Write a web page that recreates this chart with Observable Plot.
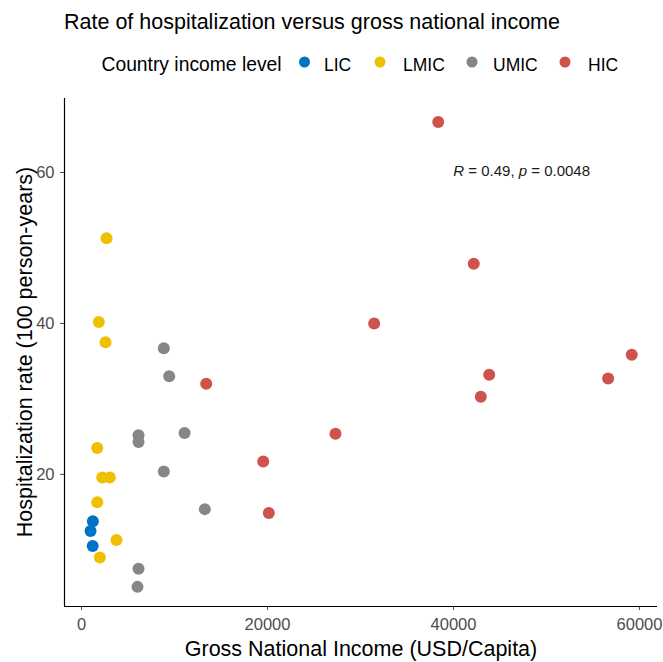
<!DOCTYPE html>
<html><head><meta charset="utf-8">
<script src="https://cdn.jsdelivr.net/npm/d3@7"></script>
<script src="https://cdn.jsdelivr.net/npm/@observablehq/plot@0.6"></script>
<style>
html,body{margin:0;padding:0;background:#fff;}
#chart{position:relative;width:663px;height:662px;}
svg{font-family:"Liberation Sans",Arial,sans-serif;}
</style></head><body><div id="chart"></div>
<script>
const groups = ["LIC","LMIC","UMIC","HIC"];
const groupColors = ["#0073C2","#EFC000","#868686","#CD534C"];
const licGNI = [1220, 970, 1200];
const licRate = [13.8, 12.5, 10.5];
const lmicGNI = [2690, 1860, 2580, 1690, 2230, 3040, 1690, 3760, 1970];
const lmicRate = [51.3, 40.2, 37.5, 23.5, 19.6, 19.6, 16.3, 11.3, 9.0];
const umicGNI = [8850, 9430, 6130, 6130, 11080, 8850, 13260, 6130, 6020];
const umicRate = [36.7, 33.0, 25.2, 24.3, 25.5, 20.4, 15.4, 7.5, 5.1];
const hicGNI = [38360, 42180, 31470, 59170, 43840, 56630, 42940, 27310, 13410, 19540, 20140];
const hicRate = [66.7, 47.9, 40.0, 35.85, 33.2, 32.7, 30.3, 25.4, 32.0, 21.7, 14.9];
const xTicks = [0, 20000, 40000, 60000];
const yTicks = [20, 40, 60];
const xDomain = [-1830, 61940];
const yDomain = [2.5, 69.8];
const titleText = "Rate of hospitalization versus gross national income";
const legendTitle = "Country income level";
const xLabel = "Gross National Income (USD/Capita)";
const yLabel = "Hospitalization rate (100 person-years)";
const statR = "0.49";
const statP = "0.0048";
const statPos = [40030, 60.2];

const seriesX = [licGNI, lmicGNI, umicGNI, hicGNI];
const seriesY = [licRate, lmicRate, umicRate, hicRate];
const data = [];
groups.forEach((g, i) => seriesX[i].forEach((v, j) => data.push({group: g, gni: v, rate: seriesY[i][j]})));

const chart = Plot.plot({
  width: 663, height: 662,
  marginLeft: 64, marginRight: 6, marginTop: 98, marginBottom: 56,
  style: {fontFamily: "Liberation Sans, Arial, sans-serif", background: "#fff", overflow: "visible"},
  x: {domain: xDomain},
  y: {domain: yDomain},
  color: {domain: groups, range: groupColors},
  marks: [
    Plot.axisX({ticks: xTicks, tickFormat: d => String(d), tickSize: 4, tickPadding: 8, fontSize: 16.5, label: null, color: "#4d4d4d"}),
    Plot.axisY({ticks: yTicks, tickSize: 4, tickPadding: 6, fontSize: 16.5, label: null, color: "#4d4d4d"}),
    Plot.ruleX([xDomain[0]], {stroke: "#000", strokeWidth: 1.2}),
    Plot.ruleY([yDomain[0]], {stroke: "#000", strokeWidth: 1.2}),
    Plot.dot(data, {x: "gni", y: "rate", fill: "group", r: 6, stroke: null})
  ]
});

const svg = d3.select(chart);
const sx = chart.scale("x"), sy = chart.scale("y"), sc = chart.scale("color");

// stat annotation
const st = svg.append("text")
  .attr("x", sx.apply(statPos[0])).attr("y", sy.apply(statPos[1]))
  .attr("dy", "0.35em").attr("text-anchor", "start").attr("font-size", 15).attr("fill", "#1a1a1a");
st.append("tspan").attr("font-style", "italic").text("R");
st.append("tspan").text(" = " + statR + ", ");
st.append("tspan").attr("font-style", "italic").text("p");
st.append("tspan").text(" = " + statP);

// title
svg.append("text").attr("x", 64).attr("y", 29).attr("text-anchor", "start").attr("font-size", 21.5).attr("fill", "#000").text(titleText);

// legend
svg.append("text").attr("x", 101.5).attr("y", 71).attr("text-anchor", "start").attr("font-size", 19.3).attr("fill", "#000").text(legendTitle);
const dotX = [304.5, 380, 472, 565];
const labX = [324, 403, 493, 588];
groups.forEach((g, i) => {
  svg.append("circle").attr("cx", dotX[i]).attr("cy", 62).attr("r", 5.5).attr("fill", sc.apply(g));
  svg.append("text").attr("x", labX[i]).attr("y", 71).attr("text-anchor", "start").attr("font-size", 17.5).attr("fill", "#000").text(g);
});

// axis titles
svg.append("text").attr("x", 361).attr("y", 656).attr("text-anchor", "middle").attr("font-size", 21.5).attr("fill", "#000").text(xLabel);
svg.append("text").attr("transform", "translate(31.7,352) rotate(-90)").attr("text-anchor", "middle").attr("font-size", 21.5).attr("fill", "#000").text(yLabel);

document.getElementById("chart").appendChild(chart);
</script></body></html>
